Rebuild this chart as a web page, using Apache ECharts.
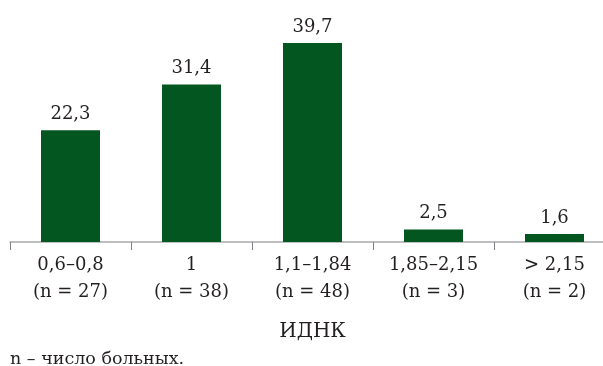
<!DOCTYPE html>
<html>
<head>
<meta charset="utf-8">
<script src="https://cdn.jsdelivr.net/npm/echarts@6/dist/echarts.min.js"></script>
<style>
  html, body { margin: 0; padding: 0; background: #fff; }
  #chart { width: 603px; height: 366px; }
</style>
</head>
<body>
<div id="chart"></div>
<script>
// Ranges of ИДНК with patient counts, and share of patients (%)
const ranges = ['0,6–0,8', '1', '1,1–1,84', '1,85–2,15', '> 2,15'];
const counts = [27, 38, 48, 3, 2];
const shares = [22.3, 31.4, 39.7, 2.5, 1.6];

const categories = ranges.map((r, i) => r + '\n(n = ' + counts[i] + ')');
const fontFamily = "'DejaVu Serif', serif";
const textColor = '#231f20';

const chart = echarts.init(document.getElementById('chart'));
chart.setOption({
  animation: false,
  grid: { left: 10, width: 605, top: 41.5, bottom: 124, containLabel: false, outerBoundsMode: 'none' },
  xAxis: {
    type: 'category',
    data: categories,
    name: 'ИДНК',
    nameLocation: 'middle',
    nameGap: 80,
    nameTextStyle: { fontFamily, fontSize: 20, color: textColor },
    axisLine: { lineStyle: { color: '#a7a9ac', width: 1.5 } },
    axisTick: { show: true, length: 8, lineStyle: { color: '#808285', width: 1 } },
    axisLabel: {
      fontFamily, fontSize: 18, color: textColor,
      lineHeight: 27, margin: 10, interval: 0
    }
  },
  yAxis: {
    type: 'value',
    min: 0,
    max: 40,
    show: false
  },
  series: [{
    type: 'bar',
    data: shares,
    barWidth: 59,
    itemStyle: { color: '#03561f' },
    label: {
      show: true,
      position: 'top',
      distance: 7,
      fontFamily, fontSize: 18, color: textColor,
      formatter: p => String(p.value).replace('.', ',')
    }
  }],
  graphic: [{
    type: 'text',
    left: 10,
    top: 350,
    style: { text: 'n – число больных.', fontFamily, fontSize: 17.5, fill: textColor }
  }]
});
</script>
</body>
</html>
